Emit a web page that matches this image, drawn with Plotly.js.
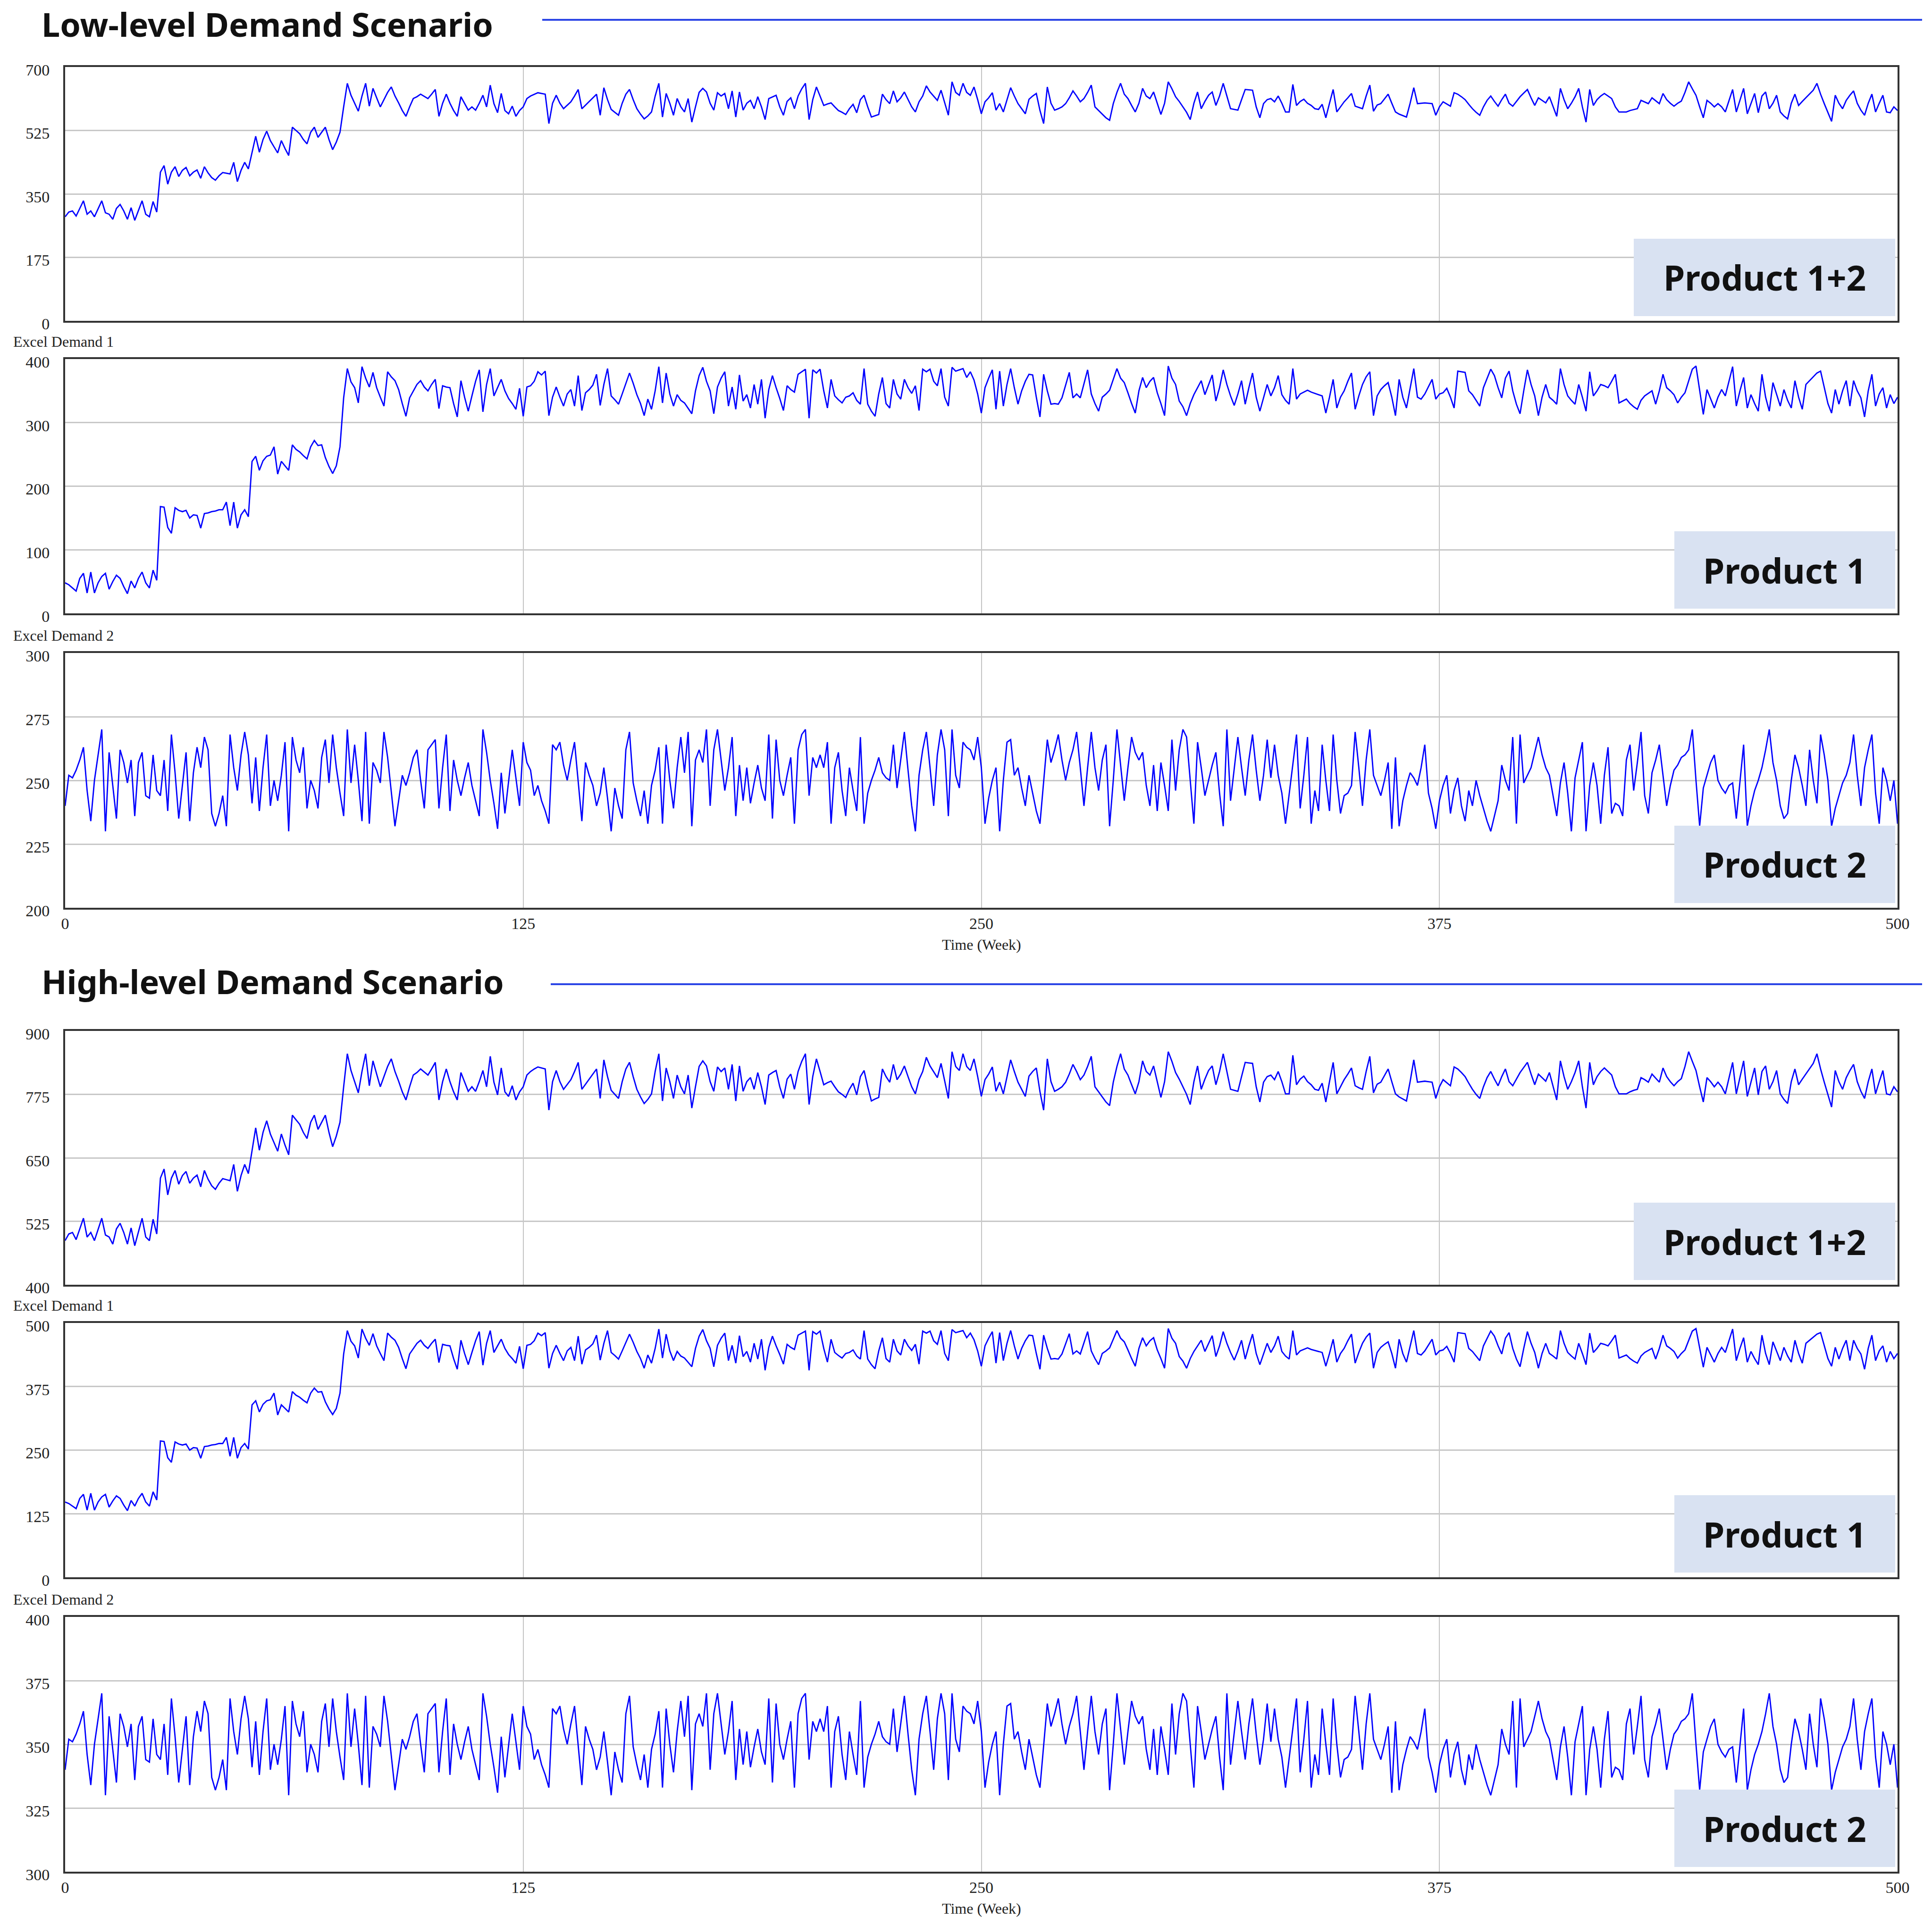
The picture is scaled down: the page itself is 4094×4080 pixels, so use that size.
<!DOCTYPE html>
<html>
<head>
<meta charset="utf-8">
<script src="https://cdn.plot.ly/plotly-3.0.1.min.js"></script>
<style>
  html, body { margin: 0; padding: 0; background: #fff; }
  #myPlot { width: 4094px; height: 4080px; }
</style>
</head>
<body>
<div id="myPlot"></div>
<script>
// Weekly demand, week 0..500

// Low-level scenario
const lowTotal = [
287,300,303,289,310,331,294,303,287,310,331,298,294,280,310,321,303,280,312,277,305,331,294,287,329,
300,410,428,377,410,425,398,415,423,400,410,416,393,425,408,395,388,400,409,407,405,437,384,415,437,
419,465,509,465,500,523,497,480,463,497,475,456,534,525,516,500,488,520,534,506,520,534,500,472,493,
520,590,655,622,600,578,620,655,592,641,615,590,610,630,645,620,601,580,564,590,613,618,625,619,613,
625,638,564,600,625,600,580,564,618,600,581,590,581,600,622,590,650,599,574,627,580,571,592,564,580,
590,613,620,625,629,627,625,544,600,622,600,585,595,604,620,638,585,595,606,615,625,567,643,610,583,
575,567,600,625,638,610,585,570,557,565,576,620,655,562,627,600,567,613,590,576,613,548,590,630,641,
631,600,581,629,620,627,585,634,562,631,581,600,608,585,618,590,555,613,618,622,590,567,605,615,585,
620,640,655,555,610,645,620,594,598,601,590,580,575,569,585,597,574,610,622,590,562,566,569,625,610,
599,634,604,615,631,610,590,576,604,620,648,631,620,608,636,600,567,659,630,622,655,630,622,645,610,
571,604,615,629,581,599,576,610,643,620,599,585,571,611,620,627,580,544,645,600,581,585,590,599,615,
634,620,604,613,630,650,590,580,571,560,553,599,630,655,625,613,594,576,600,641,620,613,631,600,569,
600,659,640,618,605,590,575,555,600,631,585,605,622,631,594,620,655,620,585,583,581,610,638,637,636,
590,560,599,610,613,604,620,600,576,576,652,594,605,611,600,594,585,583,597,560,600,638,576,590,604,
615,627,592,588,585,620,650,578,595,599,612,625,600,576,570,566,562,600,643,599,600,601,600,599,567,
590,604,598,592,629,625,618,610,597,585,575,567,590,608,620,605,592,610,625,600,592,605,618,628,638,
615,594,615,608,601,618,590,564,641,610,585,600,618,641,590,548,638,594,610,620,627,620,613,590,576,
576,576,580,583,585,608,604,599,615,607,599,627,610,600,592,600,606,630,659,640,622,590,560,608,600,
590,599,590,576,607,638,576,610,641,571,600,627,574,620,631,585,600,622,576,565,557,600,625,594,605,
615,625,636,655,625,599,575,550,622,600,585,608,622,634,600,581,567,600,625,576,600,622,576,574,590,
580];

const lowProduct1 = [
48,45,40,35,55,63,32,65,32,48,58,63,38,50,60,55,42,31,51,40,55,65,48,40,68,
52,168,167,135,126,166,162,160,162,150,155,154,134,157,158,160,161,163,163,175,138,175,134,155,163,
152,239,247,225,240,247,249,262,219,239,232,225,265,258,254,248,243,262,272,264,265,245,231,220,232,
262,339,385,364,355,331,388,370,356,379,355,340,326,380,372,366,352,330,310,339,350,360,366,356,350,
360,368,322,358,356,355,330,309,366,340,318,342,365,383,317,360,385,342,355,368,350,338,330,321,354,
310,356,358,365,380,375,381,311,340,356,340,326,345,352,326,374,319,347,352,359,376,327,360,385,342,
336,329,345,362,378,362,344,330,311,337,321,350,388,331,378,345,326,344,335,331,322,314,350,374,387,
365,350,314,356,370,380,326,356,321,375,334,344,323,360,329,368,307,352,374,355,338,319,358,352,348,
376,380,384,307,383,378,384,350,323,368,342,336,331,340,342,347,335,329,385,329,318,310,345,371,330,
323,368,345,337,368,355,346,358,319,384,380,384,365,358,385,340,326,387,381,383,385,371,380,367,345,
315,355,370,383,321,381,326,360,385,355,329,350,365,376,375,340,309,376,350,329,330,329,339,360,379,
339,345,339,360,383,345,330,318,340,345,351,368,385,370,363,347,330,315,350,371,355,365,371,347,330,
311,389,370,360,334,325,311,330,344,355,366,344,360,375,334,355,383,360,342,327,345,366,329,355,378,
340,318,340,360,342,355,374,344,335,329,385,337,345,348,351,348,346,344,342,315,340,368,323,340,350,
365,378,321,342,360,372,380,311,342,352,358,363,340,311,368,340,323,355,385,340,337,345,356,368,337,
345,347,354,340,323,381,380,379,350,344,335,326,355,370,384,374,355,339,370,381,350,329,314,350,383,
360,342,311,340,360,340,335,329,385,360,342,335,329,360,340,318,380,342,350,360,358,355,365,376,331,
334,337,330,325,321,335,342,346,350,329,350,376,355,350,344,331,340,347,365,384,389,350,313,352,338,
323,340,352,342,365,388,326,350,371,323,344,330,318,376,340,318,363,345,326,352,335,323,366,340,321,
360,366,372,378,381,355,330,315,352,329,350,366,326,366,350,339,309,350,376,326,345,355,323,344,330,
340];

const lowProduct2 = [
240,252,251,254,258,263,246,234,250,260,270,230,261,248,235,262,257,249,258,236,257,261,244,243,260,
246,244,258,238,268,253,235,248,261,234,253,263,255,267,262,237,232,237,244,232,268,255,246,260,269,
260,241,259,238,255,268,240,250,242,252,265,230,267,258,253,263,239,250,246,239,259,266,249,268,255,
245,236,270,249,264,250,234,269,233,257,254,249,269,259,245,232,242,252,248,253,259,262,250,239,262,
264,266,239,255,268,238,258,250,244,251,257,248,242,236,270,261,250,241,231,253,237,250,262,251,240,
265,257,254,244,248,242,238,233,264,262,265,256,250,258,265,250,234,257,252,248,240,245,255,243,230,
247,240,235,262,269,249,242,236,246,233,248,254,263,233,264,250,239,255,267,253,269,232,258,262,257,
270,240,262,270,258,246,255,267,236,256,242,255,241,249,256,247,242,268,235,266,250,244,252,259,233,
262,268,270,244,259,255,260,255,265,233,255,261,246,236,255,246,238,267,233,245,250,254,259,253,251,
250,264,247,258,269,254,240,230,252,262,269,255,240,260,270,262,236,270,252,247,265,263,262,258,267,
255,233,243,250,255,230,250,265,266,252,255,247,240,252,245,238,233,250,266,257,262,268,258,250,257,
262,269,255,240,255,269,255,246,258,264,232,250,270,256,242,255,267,261,258,261,248,240,256,238,257,
248,238,266,246,262,270,267,250,233,265,255,244,250,256,261,245,232,270,242,255,267,255,244,258,268,
254,242,252,266,251,264,252,245,233,245,257,268,239,252,267,233,246,238,264,250,238,268,250,237,244,
245,248,269,255,240,258,270,252,248,244,250,257,231,259,232,242,248,253,251,248,255,264,245,239,231,
242,248,252,237,246,251,240,234,246,240,250,244,239,234,230,236,242,256,250,246,267,233,268,249,252,
255,261,267,260,255,252,244,236,249,257,245,230,251,258,265,230,248,257,248,233,252,263,237,241,240,
236,258,264,246,257,269,244,237,253,258,264,252,240,248,254,256,259,260,262,270,250,232,247,252,257,
260,250,247,245,248,249,235,250,264,232,240,246,250,255,262,270,257,250,240,235,237,250,260,255,248,
240,262,250,241,268,260,250,232,239,244,249,252,257,268,252,240,255,262,268,245,233,255,250,242,250,
233];

// High-level scenario
const highTotal = [
487,500,503,489,510,531,494,503,487,510,531,498,494,480,510,521,503,480,512,477,505,531,494,487,529,
500,610,628,577,610,625,598,615,623,600,610,616,593,625,608,595,588,600,609,607,605,637,584,615,637,
619,665,709,665,700,723,697,680,663,697,675,656,734,725,716,700,688,720,734,706,720,734,700,672,693,
720,790,855,822,800,778,820,855,792,841,815,790,810,830,845,820,801,780,764,790,813,818,825,819,813,
825,838,764,800,825,800,780,764,818,800,781,790,781,800,822,790,850,799,774,827,780,771,792,764,780,
790,813,820,825,829,827,825,744,800,822,800,785,795,804,820,838,785,795,806,815,825,767,843,810,783,
775,767,800,825,838,810,785,770,757,765,776,820,855,762,827,800,767,813,790,776,813,748,790,830,841,
831,800,781,829,820,827,785,834,762,831,781,800,808,785,818,790,755,813,818,822,790,767,805,815,785,
820,840,855,755,810,845,820,794,798,801,790,780,775,769,785,797,774,810,822,790,762,766,769,825,810,
799,834,804,815,831,810,790,776,804,820,848,831,820,808,836,800,767,859,830,822,855,830,822,845,810,
771,804,815,829,781,799,776,810,843,820,799,785,771,811,820,827,780,744,845,800,781,785,790,799,815,
834,820,804,813,830,850,790,780,771,760,753,799,830,855,825,813,794,776,800,841,820,813,831,800,769,
800,859,840,818,805,790,775,755,800,831,785,805,822,831,794,820,855,820,785,783,781,810,838,837,836,
790,760,799,810,813,804,820,800,776,776,852,794,805,811,800,794,785,783,797,760,800,838,776,790,804,
815,827,792,788,785,820,850,778,795,799,812,825,800,776,770,766,762,800,843,799,800,801,800,799,767,
790,804,798,792,829,825,818,810,797,785,775,767,790,808,820,805,792,810,825,800,792,805,818,828,838,
815,794,815,808,801,818,790,764,841,810,785,800,818,841,790,748,838,794,810,820,827,820,813,790,776,
776,776,780,783,785,808,804,799,815,807,799,827,810,800,792,800,806,830,859,840,822,790,760,808,800,
790,799,790,776,807,838,776,810,841,771,800,827,774,820,831,785,800,822,776,765,757,800,825,794,805,
815,825,836,855,825,799,775,750,822,800,785,808,822,834,800,781,767,800,825,776,800,822,776,774,790,
780];

const highProduct1 = [
148,145,140,135,155,163,132,165,132,148,158,163,138,150,160,155,142,131,151,140,155,165,148,140,168,
152,268,267,235,226,266,262,260,262,250,255,254,234,257,258,260,261,263,263,275,238,275,234,255,263,
252,339,347,325,340,347,349,362,319,339,332,325,365,358,354,348,343,362,372,364,365,345,331,320,332,
362,439,485,464,455,431,488,470,456,479,455,440,426,480,472,466,452,430,410,439,450,460,466,456,450,
460,468,422,458,456,455,430,409,466,440,418,442,465,483,417,460,485,442,455,468,450,438,430,421,454,
410,456,458,465,480,475,481,411,440,456,440,426,445,452,426,474,419,447,452,459,476,427,460,485,442,
436,429,445,462,478,462,444,430,411,437,421,450,488,431,478,445,426,444,435,431,422,414,450,474,487,
465,450,414,456,470,480,426,456,421,475,434,444,423,460,429,468,407,452,474,455,438,419,458,452,448,
476,480,484,407,483,478,484,450,423,468,442,436,431,440,442,447,435,429,485,429,418,410,445,471,430,
423,468,445,437,468,455,446,458,419,484,480,484,465,458,485,440,426,487,481,483,485,471,480,467,445,
415,455,470,483,421,481,426,460,485,455,429,450,465,476,475,440,409,476,450,429,430,429,439,460,479,
439,445,439,460,483,445,430,418,440,445,451,468,485,470,463,447,430,415,450,471,455,465,471,447,430,
411,489,470,460,434,425,411,430,444,455,466,444,460,475,434,455,483,460,442,427,445,466,429,455,478,
440,418,440,460,442,455,474,444,435,429,485,437,445,448,451,448,446,444,442,415,440,468,423,440,450,
465,478,421,442,460,472,480,411,442,452,458,463,440,411,468,440,423,455,485,440,437,445,456,468,437,
445,447,454,440,423,481,480,479,450,444,435,426,455,470,484,474,455,439,470,481,450,429,414,450,483,
460,442,411,440,460,440,435,429,485,460,442,435,429,460,440,418,480,442,450,460,458,455,465,476,431,
434,437,430,425,421,435,442,446,450,429,450,476,455,450,444,431,440,447,465,484,489,450,413,452,438,
423,440,452,442,465,488,426,450,471,423,444,430,418,476,440,418,463,445,426,452,435,423,466,440,421,
460,466,472,478,481,455,430,415,452,429,450,466,426,466,450,439,409,450,476,426,445,455,423,444,430,
440];

const highProduct2 = [
340,352,351,354,358,363,346,334,350,360,370,330,361,348,335,362,357,349,358,336,357,361,344,343,360,
346,344,358,338,368,353,335,348,361,334,353,363,355,367,362,337,332,337,344,332,368,355,346,360,369,
360,341,359,338,355,368,340,350,342,352,365,330,367,358,353,363,339,350,346,339,359,366,349,368,355,
345,336,370,349,364,350,334,369,333,357,354,349,369,359,345,332,342,352,348,353,359,362,350,339,362,
364,366,339,355,368,338,358,350,344,351,357,348,342,336,370,361,350,341,331,353,337,350,362,351,340,
365,357,354,344,348,342,338,333,364,362,365,356,350,358,365,350,334,357,352,348,340,345,355,343,330,
347,340,335,362,369,349,342,336,346,333,348,354,363,333,364,350,339,355,367,353,369,332,358,362,357,
370,340,362,370,358,346,355,367,336,356,342,355,341,349,356,347,342,368,335,366,350,344,352,359,333,
362,368,370,344,359,355,360,355,365,333,355,361,346,336,355,346,338,367,333,345,350,354,359,353,351,
350,364,347,358,369,354,340,330,352,362,369,355,340,360,370,362,336,370,352,347,365,363,362,358,367,
355,333,343,350,355,330,350,365,366,352,355,347,340,352,345,338,333,350,366,357,362,368,358,350,357,
362,369,355,340,355,369,355,346,358,364,332,350,370,356,342,355,367,361,358,361,348,340,356,338,357,
348,338,366,346,362,370,367,350,333,365,355,344,350,356,361,345,332,370,342,355,367,355,344,358,368,
354,342,352,366,351,364,352,345,333,345,357,368,339,352,367,333,346,338,364,350,338,368,350,337,344,
345,348,369,355,340,358,370,352,348,344,350,357,331,359,332,342,348,353,351,348,355,364,345,339,331,
342,348,352,337,346,351,340,334,346,340,350,344,339,334,330,336,342,356,350,346,367,333,368,349,352,
355,361,367,360,355,352,344,336,349,357,345,330,351,358,365,330,348,357,348,333,352,363,337,341,340,
336,358,364,346,357,369,344,337,353,358,364,352,340,348,354,356,359,360,362,370,350,332,347,352,357,
360,350,347,345,348,349,335,350,364,332,340,346,350,355,362,370,357,350,340,335,337,350,360,355,348,
340,362,350,341,368,360,350,332,339,344,349,352,357,368,352,340,355,362,368,345,333,355,350,342,350,
333];

// Axis ticks
const weekTicks = [0, 125, 250, 375, 500];
const ticksLowTotal = [0, 175, 350, 525, 700];
const ticksLowP1 = [0, 100, 200, 300, 400];
const ticksLowP2 = [200, 225, 250, 275, 300];
const ticksHighTotal = [400, 525, 650, 775, 900];
const ticksHighP1 = [0, 125, 250, 375, 500];
const ticksHighP2 = [300, 325, 350, 375, 400];

const panelLabels = ['Product 1+2', 'Product 1', 'Product 2', 'Product 1+2', 'Product 1', 'Product 2'];
const scenarioTitles = ['Low-level Demand Scenario', 'High-level Demand Scenario'];

// page geometry (pixels)
const W = 4094, H = 4080;
const plotLeft = 138, plotRight = 4021;
function px(x) { return x / W; }
function py(y) { return 1 - y / H; }

const panels = [
  { top: 142,  bottom: 680,  data: lowTotal,     ticks: ticksLowTotal,  boxLeft: 3462, xlabels: false },
  { top: 761,  bottom: 1300, data: lowProduct1,  ticks: ticksLowP1,     boxLeft: 3548, xlabels: false },
  { top: 1384, bottom: 1924, data: lowProduct2,  ticks: ticksLowP2,     boxLeft: 3548, xlabels: true },
  { top: 2185, bottom: 2723, data: highTotal,    ticks: ticksHighTotal, boxLeft: 3462, xlabels: false },
  { top: 2804, bottom: 3343, data: highProduct1, ticks: ticksHighP1,    boxLeft: 3548, xlabels: false },
  { top: 3427, bottom: 3967, data: highProduct2, ticks: ticksHighP2,    boxLeft: 3548, xlabels: true }
];

const tickFont = { family: 'Liberation Serif', size: 34, color: '#222' };
const titleFont = { family: 'Noto Sans', size: 70, color: '#111', weight: 'bold' };
const boxFont = { family: 'Noto Sans', size: 73, color: '#111', weight: 'bold' };

var data = [];
var layout = {
  width: W,
  height: H,
  margin: { l: 0, r: 0, t: 0, b: 0 },
  paper_bgcolor: '#fff',
  plot_bgcolor: '#fff',
  showlegend: false,
  shapes: [],
  annotations: []
};

panels.forEach(function (p, i) {
  var n = i === 0 ? '' : String(i + 1);
  data.push({
    type: 'scatter',
    mode: 'lines',
    x0: 0,
    dx: 1,
    y: p.data,
    xaxis: 'x' + n,
    yaxis: 'y' + n,
    line: { color: '#0000ff', width: 2.8 },
    hoverinfo: 'skip'
  });

  layout['xaxis' + n] = {
    domain: [px(plotLeft), px(plotRight)],
    anchor: 'y' + n,
    range: [0, 500],
    tickmode: 'array',
    tickvals: weekTicks,
    ticktext: weekTicks.map(String),
    showticklabels: p.xlabels,
    ticks: '',
    tickfont: tickFont,
    showgrid: true,
    gridcolor: '#c4c4c4',
    gridwidth: 2,
    zeroline: false,
    showline: true,
    mirror: true,
    linecolor: '#333',
    linewidth: 4
  };

  var lo = p.ticks[0], hi = p.ticks[p.ticks.length - 1];
  layout['yaxis' + n] = {
    domain: [py(p.bottom), py(p.top)],
    anchor: 'x' + n,
    range: [lo, hi],
    tickmode: 'array',
    tickvals: p.ticks,
    ticktext: p.ticks.map(String),
    ticks: '',
    tickfont: tickFont,
    ticklabelstandoff: 22,
    ticklabelshift: 6,
    showgrid: true,
    gridcolor: '#c8c8c8',
    gridwidth: 3,
    zeroline: false,
    showline: true,
    mirror: true,
    linecolor: '#333',
    linewidth: 4
  };

  // label box in the lower right corner
  var bBottom = p.bottom - 10, bTop = bBottom - 164;
  layout.shapes.push({
    type: 'rect', xref: 'paper', yref: 'paper',
    x0: px(p.boxLeft), x1: px(4016), y0: py(bBottom), y1: py(bTop),
    fillcolor: '#d9e2f2', line: { width: 0 }, layer: 'above'
  });
  layout.annotations.push({
    xref: 'paper', yref: 'paper',
    x: px((p.boxLeft + 4016) / 2), y: py((bTop + bBottom) / 2),
    xanchor: 'center', yanchor: 'middle',
    text: panelLabels[i], showarrow: false, font: boxFont
  });

  // small variable name above panels 2, 3, 5, 6
  if (i % 3 !== 0) {
    layout.annotations.push({
      xref: 'paper', yref: 'paper',
      x: px(26), y: py(p.top - 37),
      xanchor: 'left', yanchor: 'middle',
      text: 'Excel Demand ' + (i % 3), showarrow: false,
      font: { family: 'Liberation Serif', size: 32, color: '#222' }
    });
  }

  // time axis title under the bottom panel of each scenario
  if (p.xlabels) {
    layout.annotations.push({
      xref: 'paper', yref: 'paper',
      x: px((plotLeft + plotRight) / 2), y: py(p.bottom + 78),
      xanchor: 'center', yanchor: 'middle',
      text: 'Time (Week)', showarrow: false,
      font: { family: 'Liberation Serif', size: 32, color: '#222' }
    });
  }
});

// scenario headers with blue rule
[{ y: 51, line: 42, start: 1149 }, { y: 2080, line: 2086, start: 1167 }].forEach(function (h, k) {
  layout.annotations.push({
    xref: 'paper', yref: 'paper',
    x: px(86), y: py(h.y),
    xanchor: 'left', yanchor: 'middle',
    text: scenarioTitles[k], showarrow: false, font: titleFont
  });
  layout.shapes.push({
    type: 'line', xref: 'paper', yref: 'paper',
    x0: px(h.start), x1: px(4073), y0: py(h.line), y1: py(h.line),
    line: { color: '#2b45e6', width: 4 }
  });
});

Plotly.newPlot('myPlot', data, layout, { staticPlot: true });
</script>
</body>
</html>
